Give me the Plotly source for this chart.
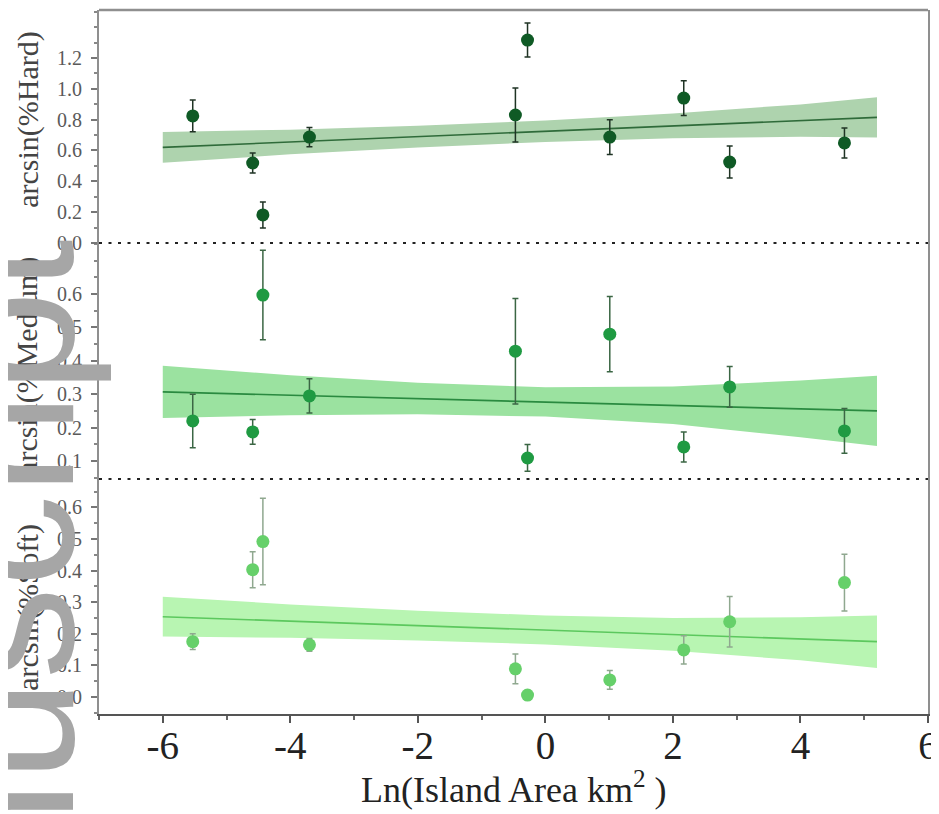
import plotly.graph_objects as go

# ---- data ----
area_ln = [-5.53, -4.59, -4.43, -3.70, -0.47, -0.28, 1.01, 2.17, 2.89, 4.69]

hard = [0.824, 0.519, 0.182, 0.687, 0.830, 1.316, 0.687, 0.940, 0.525, 0.649]
hard_err = [0.103, 0.065, 0.084, 0.062, 0.175, 0.110, 0.113, 0.113, 0.104, 0.097]

medium = [0.220, 0.187, 0.597, 0.295, 0.429, 0.109, 0.480, 0.142, 0.322, 0.190]
medium_err = [0.080, 0.037, 0.134, 0.051, 0.158, 0.040, 0.113, 0.045, 0.061, 0.067]

soft = [0.175, 0.403, 0.492, 0.165, 0.089, 0.006, 0.054, 0.149, 0.238, 0.362]
soft_err = [0.025, 0.057, 0.137, 0.020, 0.047, 0.015, 0.030, 0.045, 0.080, 0.090]

fit_x = [-6, -4, -2, 0, 2, 4, 5.2]
hard_fit = [0.620, 0.655, 0.690, 0.725, 0.760, 0.794, 0.815]
hard_lo = [0.520, 0.575, 0.620, 0.655, 0.680, 0.689, 0.685]
hard_hi = [0.720, 0.735, 0.760, 0.795, 0.840, 0.899, 0.945]

medium_fit = [0.307, 0.297, 0.287, 0.277, 0.266, 0.256, 0.250]
medium_lo = [0.229, 0.237, 0.240, 0.233, 0.211, 0.171, 0.145]
medium_hi = [0.385, 0.357, 0.334, 0.321, 0.323, 0.341, 0.355]

soft_fit = [0.254, 0.240, 0.226, 0.212, 0.198, 0.184, 0.175]
soft_lo = [0.191, 0.187, 0.179, 0.166, 0.146, 0.116, 0.092]
soft_hi = [0.317, 0.293, 0.273, 0.258, 0.250, 0.252, 0.258]

x_ticks = [-6, -4, -2, 0, 2, 4, 6]
x_ticktext = ["-6", "-4", "-2", "0", "2", "4", "6"]
hard_ticks = [0.0, 0.2, 0.4, 0.6, 0.8, 1.0, 1.2]
hard_ticktext = ["0.0", "0.2", "0.4", "0.6", "0.8", "1.0", "1.2"]
medium_ticks = [0.1, 0.2, 0.3, 0.4, 0.5, 0.6]
medium_ticktext = ["0.1", "0.2", "0.3", "0.4", "0.5", "0.6"]
soft_ticks = [0.0, 0.1, 0.2, 0.3, 0.4, 0.5, 0.6]
soft_ticktext = ["0.0", "0.1", "0.2", "0.3", "0.4", "0.5", "0.6"]

panels = [
    # (yaxis, values, errors, fit, lo, hi, marker, line, band, errcolor)
    ("y3", hard, hard_err, hard_fit, hard_lo, hard_hi, "#0f5a25", "#2f6b3a", "#aed3ae", "#1f3324"),
    ("y2", medium, medium_err, medium_fit, medium_lo, medium_hi, "#1f9a42", "#2a8a40", "#9be2a0", "#3b6644"),
    ("y", soft, soft_err, soft_fit, soft_lo, soft_hi, "#66d06a", "#5cc85e", "#b8f5b2", "#8fa88f"),
]

fig = go.Figure()
for ya, vals, errs, fit, lo, hi, mc, lc, bc, ec in panels:
    fig.add_trace(go.Scatter(
        x=fit_x + fit_x[::-1], y=hi + lo[::-1], yaxis=ya, xaxis="x",
        fill="toself", fillcolor=bc, line=dict(width=0), mode="lines",
        hoverinfo="skip", showlegend=False))
    fig.add_trace(go.Scatter(
        x=fit_x, y=fit, yaxis=ya, xaxis="x", mode="lines",
        line=dict(color=lc, width=1.6), showlegend=False))
    fig.add_trace(go.Scatter(
        x=area_ln, y=vals, yaxis=ya, xaxis="x", mode="markers",
        marker=dict(color=mc, size=13),
        error_y=dict(type="data", array=errs, visible=True, color=ec,
                     thickness=1.5, width=3),
        showlegend=False))

tick_font = dict(family="Liberation Serif", size=20, color="#5a5a5a")
axis_common = dict(
    showline=True, linecolor="#8f8f8f", linewidth=2, mirror=True,
    ticks="outside", ticklen=6, tickcolor="#777", tickwidth=1.5,
    showgrid=False, zeroline=False, tickfont=tick_font, anchor="x",
    automargin=False, ticklabelstandoff=5,
)

# page has an 8px body margin: figure is sized/offset so the plot area
# lands at x 99..928, y 10..714 in the 939x814 window
fig.update_layout(
    width=931, height=806,
    margin=dict(l=91, r=11, t=2, b=100),
    paper_bgcolor="white", plot_bgcolor="white",
    xaxis=dict(
        range=[-7, 6], tickmode="array", tickvals=x_ticks, ticktext=x_ticktext,
        showline=True, linecolor="#555", linewidth=2,
        ticks="outside", ticklen=7, tickcolor="#555", tickwidth=1.5,
        minor=dict(dtick=1, tick0=0, ticks="outside", ticklen=4, tickcolor="#666"),
        showgrid=False, zeroline=False, automargin=False, ticklabelstandoff=-11,
        tickfont=dict(family="Liberation Serif", size=39, color="#222"),
        anchor="y",
    ),
    yaxis=dict(domain=[0, 0.3338], range=[-0.054, 0.69],
               tickmode="array", tickvals=soft_ticks, ticktext=soft_ticktext,
               minor=dict(dtick=0.05, tick0=0, ticks="outside", ticklen=3, tickcolor="#888"),
               **axis_common),
    yaxis2=dict(domain=[0.3338, 0.669], range=[0.046, 0.753],
                tickmode="array", tickvals=medium_ticks, ticktext=medium_ticktext,
                minor=dict(dtick=0.05, tick0=0, ticks="outside", ticklen=3, tickcolor="#888"),
                **axis_common),
    yaxis3=dict(domain=[0.669, 1], range=[0, 1.511],
                tickmode="array", tickvals=hard_ticks, ticktext=hard_ticktext,
                minor=dict(dtick=0.1, tick0=0, ticks="outside", ticklen=3, tickcolor="#888"),
                **axis_common),
)

# frame top line and dotted panel separators
fig.add_shape(type="line", xref="paper", yref="paper", x0=0, x1=1, y0=1, y1=1,
              line=dict(color="#8f8f8f", width=2.5))
for yb in [0.3338, 0.669]:
    fig.add_shape(type="line", xref="paper", yref="paper", x0=0, x1=1, y0=yb, y1=yb,
                  line=dict(color="#222", width=2, dash="3px,6.5px"))

title_font = dict(family="Liberation Serif", size=30, color="#444")
for text, yc in [("arcsin(%Hard)", 0.845), ("arcsin(%Medium)", 0.494), ("arcsin(%Soft)", 0.152)]:
    fig.add_annotation(text=text, xref="paper", yref="paper", x=-0.086, y=yc,
                       xanchor="center", yanchor="middle", textangle=-90,
                       showarrow=False, font=title_font)

fig.add_annotation(text="Ln(Island Area km<sup>2</sup> )", xref="paper", yref="paper",
                   x=0.5, y=-0.104, xanchor="center", yanchor="middle", showarrow=False,
                   font=dict(family="Liberation Serif", size=36, color="#222"))

# watermark
fig.add_annotation(text="manuscript", xref="paper", yref="paper",
                   x=0.018, y=0.677, xanchor="right", yanchor="top", textangle=-90,
                   showarrow=False,
                   font=dict(family="Liberation Sans", size=184, color="#a6a6a6"))

fig.write_html("out.html")
